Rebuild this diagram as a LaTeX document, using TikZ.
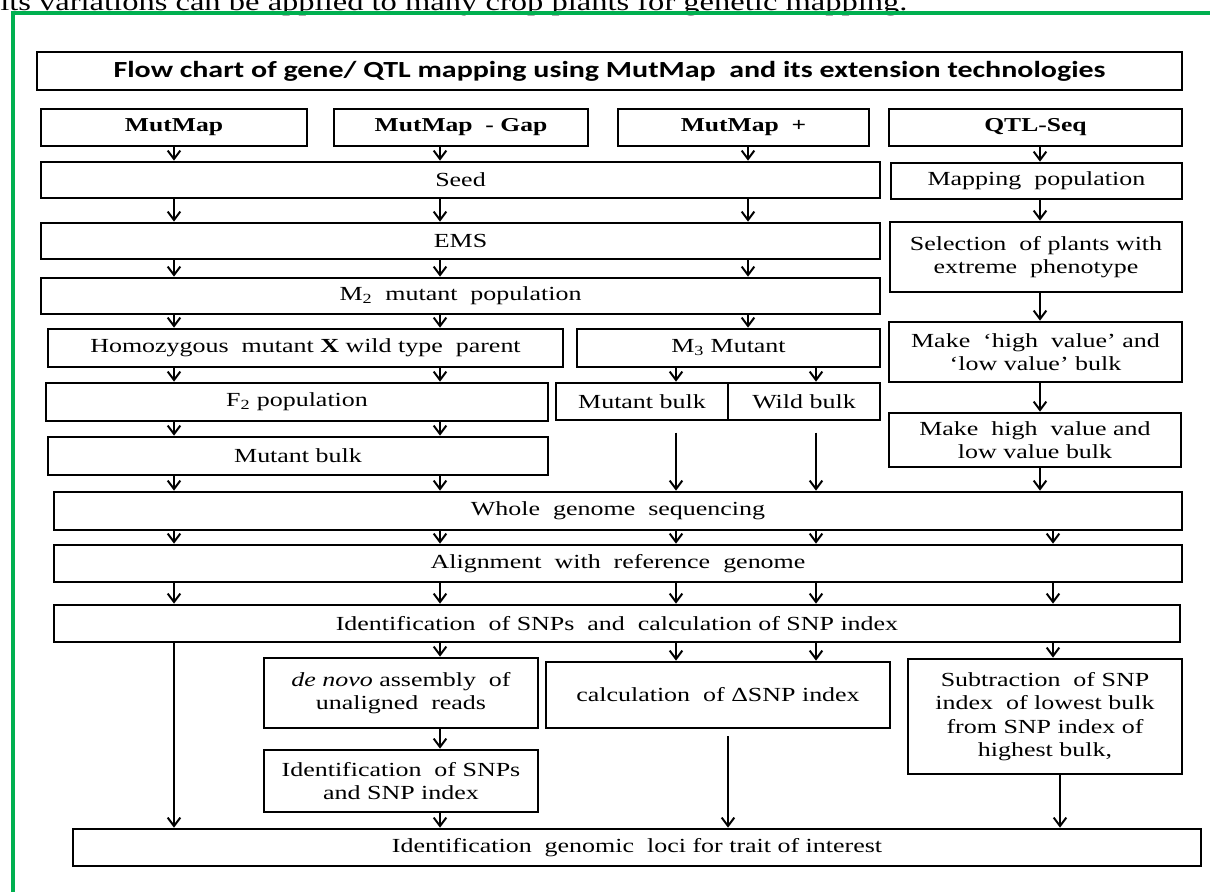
\documentclass[tikz,border=0pt]{standalone}
\usepackage{fontspec}
\setmainfont{Liberation Serif}[FakeStretch=1.3]
\newfontfamily\titlefont{Carlito}[FakeStretch=1.3]
\usetikzlibrary{arrows.meta}
\definecolor{framegreen}{RGB}{0,176,80}

\begin{document}
\begin{tikzpicture}[x=0.025cm,y=-0.025cm,
  box/.style={draw=black,line width=1.9pt,rectangle,inner sep=2pt,align=center,text=black,font=\fontsize{14.2}{16.6}\selectfont},
  hbox/.style={box,font=\fontsize{14}{16.6}\selectfont\bfseries},
  sz/.style 2 args={minimum width=#1*0.025cm,minimum height=#2*0.025cm},
  arr/.style={draw=black,line width=1.3pt,-{Straight Barb[length=6pt,width=9pt,line width=1.4pt]}}]
\useasboundingbox (0,0) rectangle (1210,892);
\fill[white] (0,0) rectangle (1210,892);
\node[font=\fontsize{17.8}{20}\selectfont,text=black,anchor=base west,inner sep=0pt] (doctext) at (0,11) {its variations can be applied to many crop plants for genetic mapping.};
\draw[framegreen,line width=2.8pt] (13,892) -- (13,13) -- (1210,13);

% columns of the arrows
\coordinate (c1) at (174,0);
\coordinate (c2) at (440,0);
\coordinate (c3) at (748,0);
\coordinate (c4) at (1040,0);
\coordinate (c5) at (676,0);
\coordinate (c6) at (816,0);
\coordinate (c7) at (1053,0);
\coordinate (c8) at (728,0);
\coordinate (c9) at (1060,0);

\node[box,sz={1145}{38},font=\titlefont\bfseries\fontsize{16.4}{19}\selectfont] (title) at (609.5,71) {Flow chart of gene/ QTL mapping using MutMap\ \ and its extension technologies};

\node[hbox,sz={266}{37}] (mutmap) at (174,127.5) {MutMap};
\node[hbox,sz={254}{37}] (mmgap) at (461,127.5) {MutMap\ \ - Gap};
\node[hbox,sz={251}{37}] (mmplus) at (743.5,127.5) {MutMap\ \ +};
\node[hbox,sz={293}{37}] (qtlseq) at (1035.5,127.5) {QTL-Seq};

\node[box,sz={839}{36}] (seed) at (460.5,180) {Seed};
\node[box,sz={291}{36}] (mappop) at (1036.5,181) {Mapping\ \ population};
\node[box,sz={839}{36}] (ems) at (460.5,241) {EMS};
\node[box,sz={292}{70}] (selplants) at (1036,257) {Selection\ \ of plants with\\extreme\ \ phenotype};
\node[box,sz={839}{36}] (mtwo) at (460.5,296) {M\textsubscript{2}\ \ mutant\ \ population};

\node[box,sz={515}{38}] (homomut) at (305.5,348) {Homozygous\ \ mutant \textbf{X} wild type\ \ parent};
\node[box,sz={303}{38}] (mthree) at (728.5,348) {M\textsubscript{3} Mutant};
\node[box,sz={293}{60}] (hvlv) at (1035.5,352) {Make\ \ ‘high\ \ value’ and\\‘low value’ bulk};
\node[box,sz={502}{38}] (ftwo) at (297,402) {F\textsubscript{2} population};
\node[box,sz={172}{37}] (mutbulkm) at (642,401.5) {Mutant bulk};
\node[box,sz={152}{37}] (wildbulk) at (804,401.5) {Wild bulk};
\node[box,sz={292}{54}] (hlbulk) at (1035,440) {Make\ \ high\ \ value and\\low value bulk};
\node[box,sz={500}{38}] (mutbulk) at (298,456) {Mutant bulk};

\node[box,sz={1128}{38}] (wgs) at (618,511) {Whole\ \ genome\ \ sequencing};
\node[box,sz={1128}{37}] (align) at (618,563.5) {Alignment\ \ with\ \ reference\ \ genome};
\node[box,sz={1126}{37}] (snpcalc) at (617,623.5) {Identification\ \ of SNPs\ \ and\ \ calculation of SNP index};

\node[box,sz={274}{70}] (denovo) at (401,693) {\textit{de novo} assembly\ \ of\\unaligned\ \ reads};
\node[box,sz={344}{66}] (dsnp) at (718,695) {calculation\ \ of ΔSNP index};
\node[box,sz={274}{115}] (subtr) at (1045,716.5) {Subtraction\ \ of SNP\\index\ \ of lowest bulk\\from SNP index of\\highest bulk,};
\node[box,sz={274}{62}] (snpident) at (401,781) {Identification\ \ of SNPs\\and SNP index};
\node[box,sz={1128}{37}] (loci) at (637,847.5) {Identification\ \ genomic\ \ loci for trait of interest};

\draw[arr] (mutmap.south -| c1) -- (seed.north -| c1);
\draw[arr] (mmgap.south -| c2) -- (seed.north -| c2);
\draw[arr] (mmplus.south -| c3) -- (seed.north -| c3);
\draw[arr] (qtlseq.south -| c4) -- (mappop.north -| c4);

\draw[arr] (seed.south -| c1) -- (ems.north -| c1);
\draw[arr] (seed.south -| c2) -- (ems.north -| c2);
\draw[arr] (seed.south -| c3) -- (ems.north -| c3);
\draw[arr] (mappop.south -| c4) -- (selplants.north -| c4);

\draw[arr] (ems.south -| c1) -- (mtwo.north -| c1);
\draw[arr] (ems.south -| c2) -- (mtwo.north -| c2);
\draw[arr] (ems.south -| c3) -- (mtwo.north -| c3);
\draw[arr] (selplants.south -| c4) -- (hvlv.north -| c4);

\draw[arr] (mtwo.south -| c1) -- (homomut.north -| c1);
\draw[arr] (mtwo.south -| c2) -- (homomut.north -| c2);
\draw[arr] (mtwo.south -| c3) -- (mthree.north -| c3);
\draw[arr] (hvlv.south -| c4) -- (hlbulk.north -| c4);

\draw[arr] (homomut.south -| c1) -- (ftwo.north -| c1);
\draw[arr] (homomut.south -| c2) -- (ftwo.north -| c2);
\draw[arr] (mthree.south -| c5) -- (mutbulkm.north -| c5);
\draw[arr] (mthree.south -| c6) -- (wildbulk.north -| c6);

\draw[arr] (ftwo.south -| c1) -- (mutbulk.north -| c1);
\draw[arr] (ftwo.south -| c2) -- (mutbulk.north -| c2);

\draw[arr] (mutbulk.south -| c1) -- (wgs.north -| c1);
\draw[arr] (mutbulk.south -| c2) -- (wgs.north -| c2);
\draw[arr,shorten <=8pt] (mutbulkm.south -| c5) -- (wgs.north -| c5);
\draw[arr,shorten <=8pt] (wildbulk.south -| c6) -- (wgs.north -| c6);
\draw[arr] (hlbulk.south -| c4) -- (wgs.north -| c4);

\draw[arr] (wgs.south -| c1) -- (align.north -| c1);
\draw[arr] (wgs.south -| c2) -- (align.north -| c2);
\draw[arr] (wgs.south -| c5) -- (align.north -| c5);
\draw[arr] (wgs.south -| c6) -- (align.north -| c6);
\draw[arr] (wgs.south -| c7) -- (align.north -| c7);

\draw[arr] (align.south -| c1) -- (snpcalc.north -| c1);
\draw[arr] (align.south -| c2) -- (snpcalc.north -| c2);
\draw[arr] (align.south -| c5) -- (snpcalc.north -| c5);
\draw[arr] (align.south -| c6) -- (snpcalc.north -| c6);
\draw[arr] (align.south -| c7) -- (snpcalc.north -| c7);

\draw[arr] (snpcalc.south -| c1) -- (loci.north -| c1);
\draw[arr] (snpcalc.south -| c2) -- (denovo.north -| c2);
\draw[arr] (snpcalc.south -| c5) -- (dsnp.north -| c5);
\draw[arr] (snpcalc.south -| c6) -- (dsnp.north -| c6);
\draw[arr] (snpcalc.south -| c7) -- (subtr.north -| c7);

\draw[arr] (denovo.south -| c2) -- (snpident.north -| c2);
\draw[arr] (snpident.south -| c2) -- (loci.north -| c2);
\draw[arr,shorten <=5pt] (dsnp.south -| c8) -- (loci.north -| c8);
\draw[arr] (subtr.south -| c9) -- (loci.north -| c9);

\end{tikzpicture}
\end{document}
